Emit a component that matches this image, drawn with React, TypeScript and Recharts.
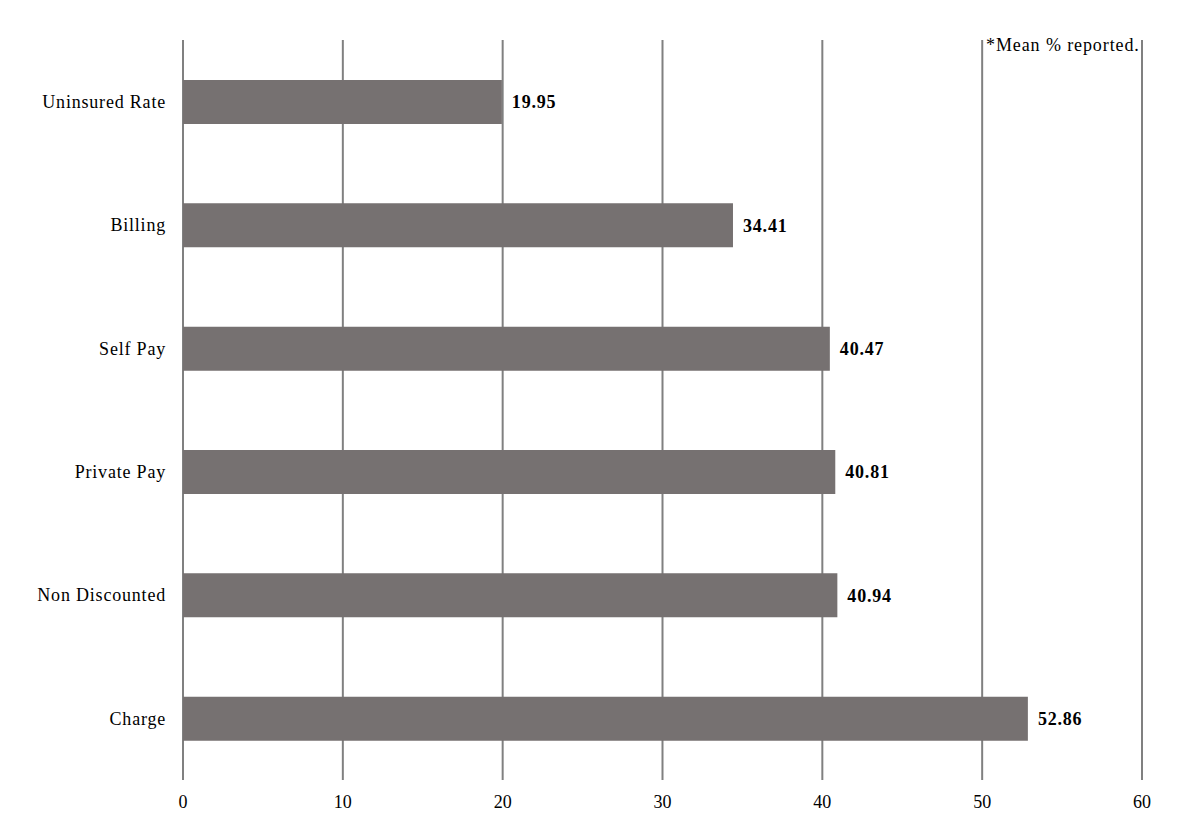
import React from 'react'
import { BarChart, Bar, XAxis, YAxis, CartesianGrid, LabelList } from 'recharts'

// categories top to bottom
const categories = ['Uninsured Rate', 'Billing', 'Self Pay', 'Private Pay', 'Non Discounted', 'Charge']
const meanPct = [19.95, 34.41, 40.47, 40.81, 40.94, 52.86]
const xTicks = [0, 10, 20, 30, 40, 50, 60]

const data = categories.map((name, i) => ({ name, value: meanPct[i] }))

const FONT = '"Liberation Serif", "Times New Roman", serif'

export default function App() {
  return (
    <div style={{ position: 'absolute', left: 0, top: 0, width: 1194, height: 837, background: '#fff' }}>
      <BarChart
        width={1194}
        height={837}
        data={data}
        layout="vertical"
        margin={{ top: 40, right: 52, left: 8, bottom: 27 }}
      >
        <CartesianGrid horizontal={false} stroke="#808080" strokeWidth={2} />
        <XAxis
          type="number"
          domain={[0, 60]}
          ticks={xTicks}
          height={30}
          axisLine={false}
          tickLine={false}
          tickSize={0}
          tickMargin={15}
          tick={{ fill: '#000', fontSize: 18, fontFamily: FONT }}
        />
        <YAxis
          type="category"
          dataKey="name"
          width={175}
          axisLine={false}
          tickLine={false}
          tickSize={0}
          tickMargin={17}
          tick={{ fill: '#000', fontSize: 18, fontFamily: FONT, letterSpacing: 0.8 }}
        />
        <Bar dataKey="value" fill="#767171" barSize={44} isAnimationActive={false}>
          <LabelList
            dataKey="value"
            position="right"
            offset={10}
            formatter={(v: number) => v.toFixed(2)}
            style={{ fill: '#000', fontSize: 18, fontWeight: 'bold', fontFamily: FONT, letterSpacing: 0.8 }}
          />
        </Bar>
      </BarChart>
      <div
        style={{
          position: 'absolute',
          left: 986,
          top: 35,
          fontFamily: FONT,
          fontSize: 18,
          letterSpacing: 0.9,
          color: '#000',
          whiteSpace: 'nowrap',
        }}
      >
        *Mean % reported.
      </div>
    </div>
  )
}
